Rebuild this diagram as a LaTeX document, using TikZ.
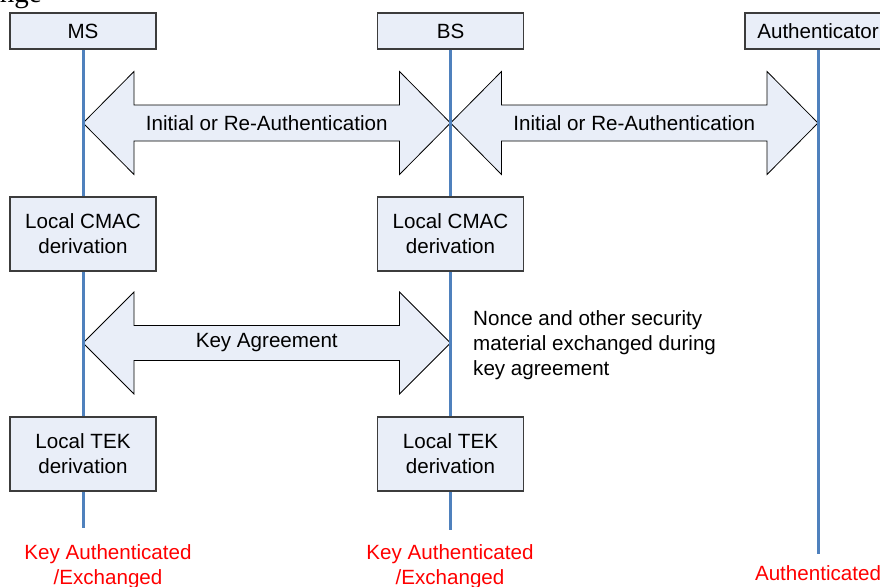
\documentclass[tikz,border=0pt]{standalone}
\usepackage{fontspec}
\setmainfont{Liberation Sans}
\newfontfamily\serifpart{Liberation Serif}
\usetikzlibrary{calc}
\definecolor{boxfill}{RGB}{233,238,248}
\definecolor{lifeblue}{RGB}{79,129,189}
\definecolor{boxline}{RGB}{60,60,60}
\newcommand{\dblarr}[4]{% from, to, head half, shaft half
  \draw[barrow] (#1) -- ($(#1)+(51,-#3)$) -- ($(#1)+(51,-#4)$) -- ($(#2)+(-51,-#4)$) -- ($(#2)+(-51,-#3)$) -- (#2)
   -- ($(#2)+(-51,#3)$) -- ($(#2)+(-51,#4)$) -- ($(#1)+(51,#4)$) -- ($(#1)+(51,#3)$) -- cycle;}
\begin{document}
\begin{tikzpicture}[x=1pt,y=-1pt, font=\fontsize{20.6}{25}\selectfont,
 box/.style={draw=boxline, line width=1.3pt, fill=boxfill, minimum width=146pt, inner sep=0pt, align=center, text=black},
 hbox/.style={box, minimum height=36pt},
 dbox/.style={box, minimum height=74pt},
 life/.style={draw=lifeblue, line width=3pt},
 barrow/.style={draw=black, line width=0.8pt, fill=boxfill, line join=miter},
 redlbl/.style={text=red, align=center, inner sep=0pt, anchor=north},
 lbl/.style={inner sep=0pt}]
\useasboundingbox (0,0) rectangle (880,586);
\clip (0,0) rectangle (880,586);
% fragment of text cut at the top edge
\node[lbl, anchor=base east, font=\serifpart\fontsize{29}{30}\selectfont] (frag) at (42,3) {nge};
% header boxes
\node[hbox] (ms) at (83,31) {MS};
\node[hbox] (bs) at (450.5,31) {BS};
\node[hbox] (au) at (818,31) {Authenticator};
% lifeline points
\coordinate (msA) at (83,123);
\coordinate (bsA) at (450.5,123);
\coordinate (auA) at (818,123);
\coordinate (msK) at (83,343);
\coordinate (bsK) at (450.5,343);
\coordinate (msE) at (83,528);
\coordinate (bsE) at (450.5,530);
\coordinate (auE) at (818,554);
% block arrows
\dblarr{msA}{bsA}{51.5}{18}
\dblarr{bsA}{auA}{51.5}{18}
\dblarr{msK}{bsK}{51}{17.5}
\node[lbl] (ra1) at ($(msA)!0.5!(bsA)$) {Initial or Re-Authentication};
\node[lbl] (ra2) at ($(bsA)!0.5!(auA)$) {Initial or Re-Authentication};
\node[lbl] (ka) at ($(msK)!0.5!(bsK)$) {Key Agreement};
% lifelines
\draw[life] (ms.south) -- (msE);
\draw[life] (bs.south) -- (bsE);
\draw[life] (au.south) -- (auE);
% processing boxes
\node[dbox] (mscmac) at (83,234) {Local CMAC\\derivation};
\node[dbox] (bscmac) at (450.5,234) {Local CMAC\\derivation};
\node[dbox] (mstek) at (83,454) {Local TEK\\derivation};
\node[dbox] (bstek) at (450.5,454) {Local TEK\\derivation};
% note
\node[lbl, anchor=north west, align=left] (note) at (473,310) {Nonce and other security\\material exchanged during\\key agreement};
% results
\node[redlbl] (msres) at (108,544) {Key Authenticated\\/Exchanged};
\node[redlbl] (bsres) at (450,544) {Key Authenticated\\/Exchanged};
\node[redlbl] (aures) at (818,565) {Authenticated};
\end{tikzpicture}
\end{document}
